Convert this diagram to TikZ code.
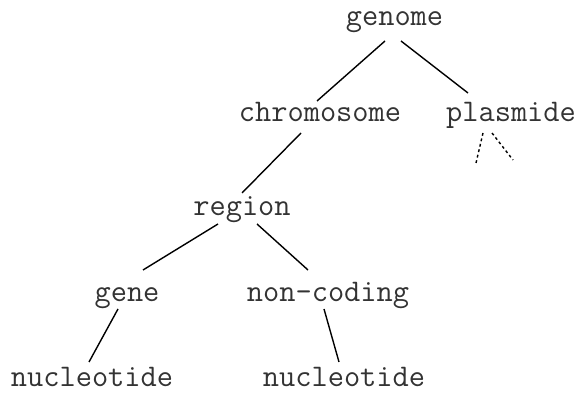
\documentclass[tikz,border=0pt]{standalone}
\usetikzlibrary{calc}
\begin{document}
\begin{tikzpicture}[x=1pt,y=1pt,
  lbl/.style={font=\fontsize{31.5}{32}\selectfont\ttfamily, text=black!80, inner sep=0pt, anchor=base},
  edge/.style={line width=1.4pt, black},
  dotedge/.style={line width=1.4pt, black, dash pattern=on 2.8pt off 2.8pt}]
\useasboundingbox (0,0) rectangle (583,398);
\node[lbl] (genome) at (394.5,372) {genome};
\node[lbl] (chrom) at (320,276) {chromosome};
\node[lbl] (plasm) at (511,276) {plasmide};
\node[lbl] (region) at (242,182) {region};
\node[lbl] (gene) at (127,96) {gene};
\node[lbl] (noncod) at (328,96) {non-coding};
\node[lbl] (nucA) at (92,11) {nucleotide};
\node[lbl] (nucB) at (344,11) {nucleotide};
\draw[edge] ($(genome.base)+(-9.5,-15)$) -- ($(chrom.base)+(-3,21)$);
\draw[edge] ($(genome.base)+(6.5,-15)$) -- ($(plasm.base)+(-43,29)$);
\draw[edge] ($(chrom.base)+(-19,-11)$) -- ($(region.base)+(0,23)$);
\draw[edge] ($(region.base)+(-24,-8)$) -- ($(gene.base)+(16,32)$);
\draw[edge] ($(region.base)+(15,-8)$) -- ($(noncod.base)+(-20,32)$);
\draw[edge] ($(gene.base)+(-9,-7)$) -- ($(nucA.base)+(-3,25)$);
\draw[edge] ($(noncod.base)+(-4,-7)$) -- ($(nucB.base)+(-5,25)$);
\draw[dotedge] ($(plasm.base)+(-28,-11)$) -- ($(plasm.base)+(-35,-41)$);
\draw[dotedge] ($(plasm.base)+(-19,-11)$) -- ($(plasm.base)+(2,-38)$);
\end{tikzpicture}
\end{document}
